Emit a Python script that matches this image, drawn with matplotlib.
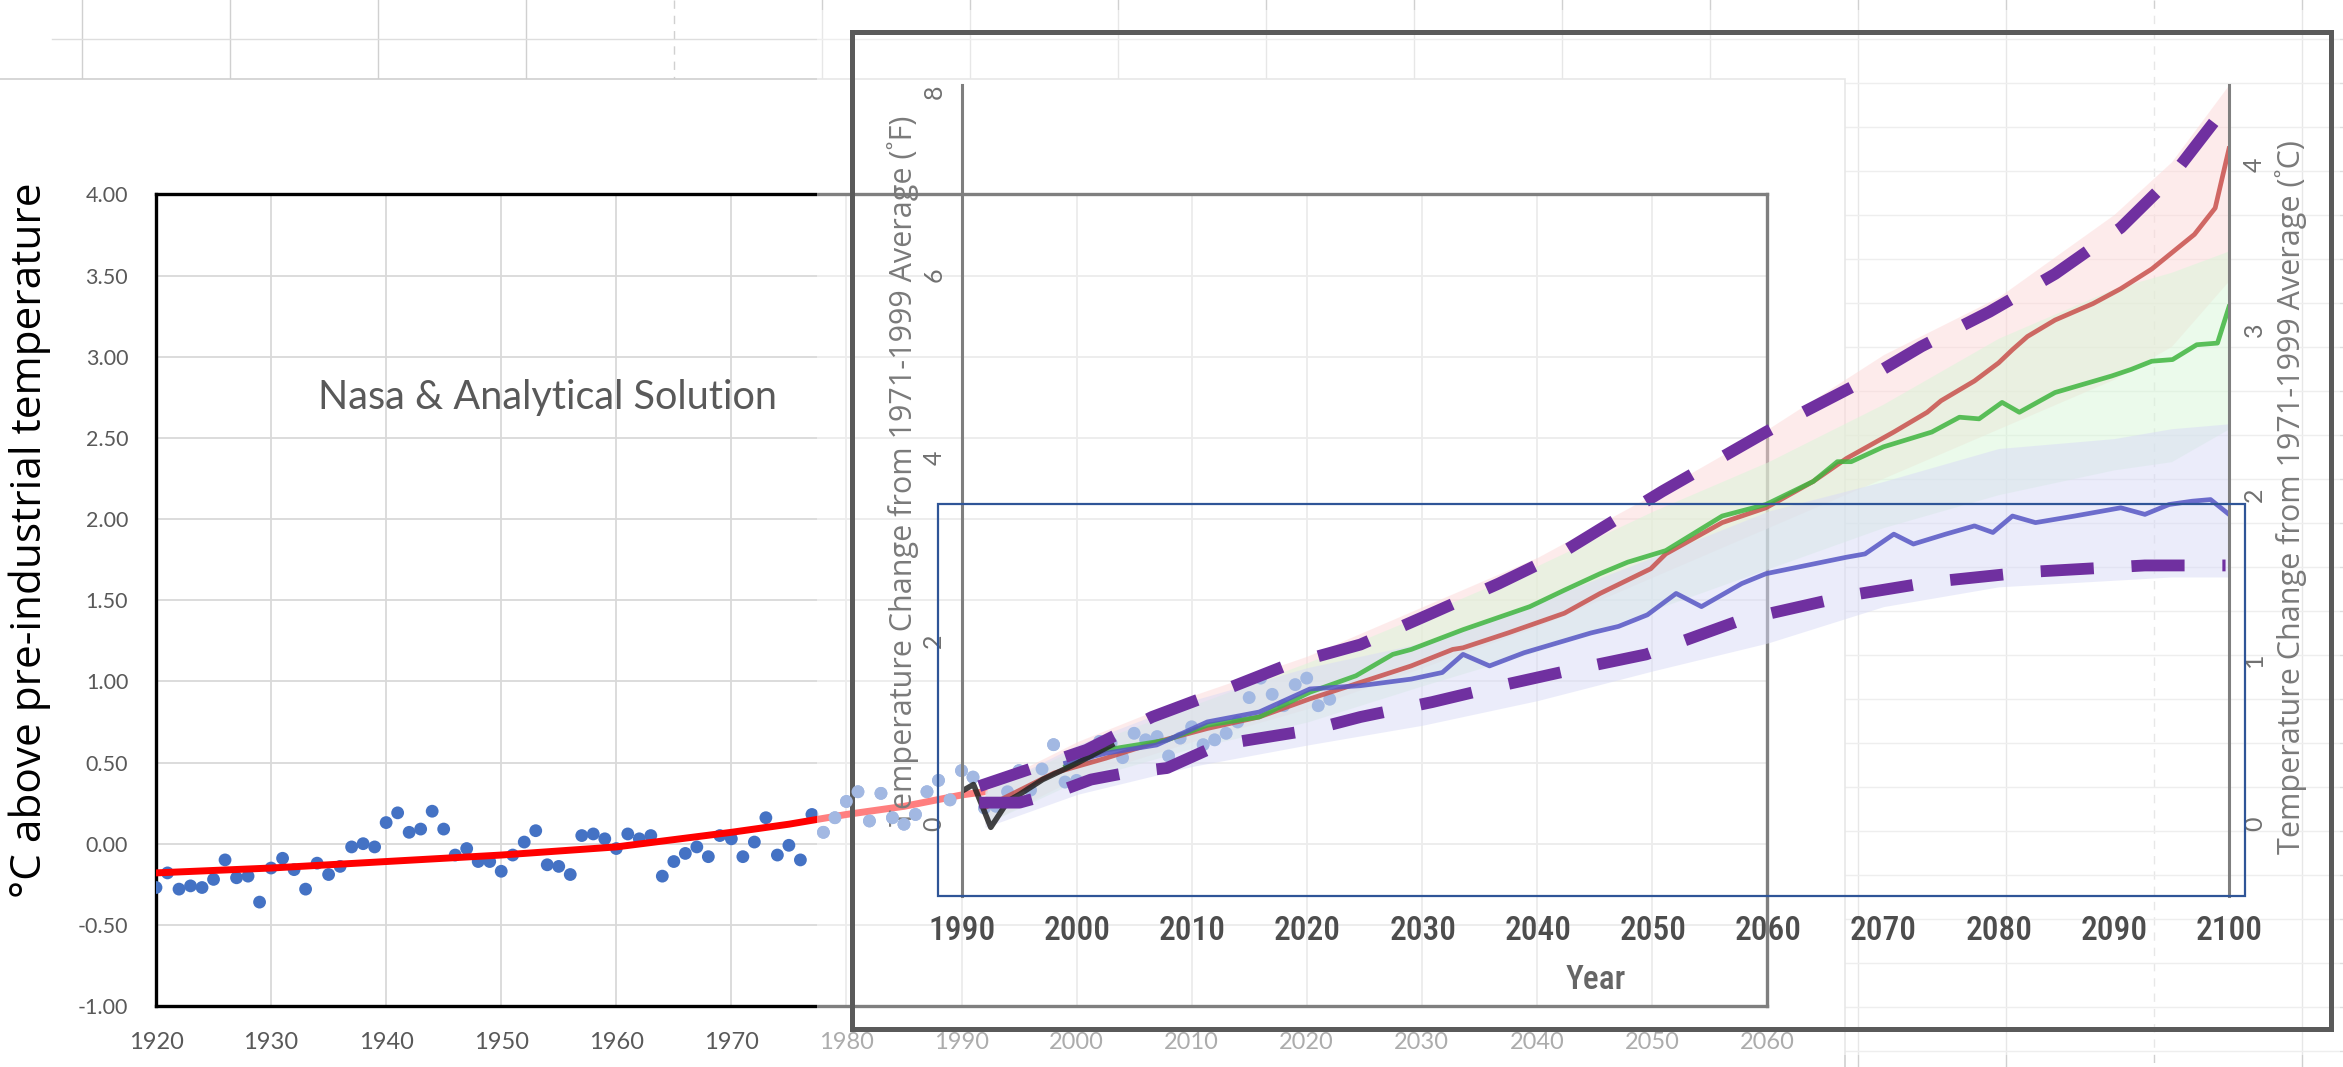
import matplotlib
matplotlib.use("Agg")
import matplotlib.pyplot as plt
import numpy as np
from matplotlib import font_manager
from matplotlib.font_manager import FontProperties
from matplotlib.patches import Rectangle
from matplotlib.ticker import FormatStrFormatter

plt.rcParams["font.family"] = ["Lato", "DejaVu Sans"]
plt.rcParams["axes.unicode_minus"] = False

# NASA annual temperature anomalies (deg C)
nasa_years = list(range(1920, 2023))
nasa_temps = [
    -0.27, -0.18, -0.28, -0.26, -0.27, -0.22, -0.10, -0.21, -0.20, -0.36,
    -0.15, -0.09, -0.16, -0.28, -0.12, -0.19, -0.14, -0.02, 0.00, -0.02,
    0.13, 0.19, 0.07, 0.09, 0.20, 0.09, -0.07, -0.03, -0.11, -0.11,
    -0.17, -0.07, 0.01, 0.08, -0.13, -0.14, -0.19, 0.05, 0.06, 0.03,
    -0.03, 0.06, 0.03, 0.05, -0.20, -0.11, -0.06, -0.02, -0.08, 0.05,
    0.03, -0.08, 0.01, 0.16, -0.07, -0.01, -0.10, 0.18, 0.07, 0.16,
    0.26, 0.32, 0.14, 0.31, 0.16, 0.12, 0.18, 0.32, 0.39, 0.27,
    0.45, 0.41, 0.22, 0.23, 0.32, 0.45, 0.33, 0.46, 0.61, 0.38,
    0.39, 0.54, 0.63, 0.62, 0.53, 0.68, 0.64, 0.66, 0.54, 0.65,
    0.72, 0.61, 0.64, 0.68, 0.75, 0.90, 1.02, 0.92, 0.85, 0.98,
    1.02, 0.85, 0.89,
]

# analytical solution (red curve)
fit_years = [1920, 1930, 1940, 1950, 1960, 1970, 1975, 1980, 1985, 1990, 1992]
fit_temps = [-0.18, -0.15, -0.11, -0.07, -0.02, 0.07, 0.12, 0.18, 0.23, 0.30, 0.32]

# NOAA projections, deg C relative to 1971-1999
high_years = [1992, 1998, 2002.5, 2007, 2011.3, 2015.8, 2020.2, 2024.6, 2029, 2032.6,
              2033.5, 2037.4, 2042.3, 2045.4, 2049.8, 2051.1, 2056, 2059.8, 2063.9,
              2066.8, 2070.9, 2073.8, 2075, 2077.9, 2080, 2081.2, 2082.5, 2084.9,
              2088.2, 2090.6, 2093.3, 2097, 2098.8, 2100]
high_temps = [0.10, 0.31, 0.40, 0.50, 0.58, 0.65, 0.76, 0.86, 0.96, 1.06,
              1.07, 1.16, 1.28, 1.40, 1.55, 1.64, 1.83, 1.92, 2.08,
              2.22, 2.38, 2.50, 2.57, 2.69, 2.80, 2.88, 2.96, 3.06,
              3.16, 3.25, 3.37, 3.58, 3.74, 4.10]

mid_years = [1999, 2002.5, 2007.8, 2011.3, 2015.8, 2020.2, 2024.2, 2027.4, 2029,
             2033.5, 2039.3, 2042.3, 2045.4, 2047.8, 2051.1, 2056, 2059.8, 2063.9,
             2066, 2067.2, 2070, 2074.2, 2076.6, 2078.3, 2080.3, 2081.8, 2084.9,
             2089.8, 2091.5, 2093.3, 2095.1, 2097.2, 2099, 2100]
mid_temps = [0.35, 0.45, 0.51, 0.60, 0.65, 0.80, 0.90, 1.03, 1.06,
             1.18, 1.32, 1.42, 1.52, 1.59, 1.66, 1.87, 1.94, 2.08,
             2.20, 2.20, 2.29, 2.38, 2.47, 2.46, 2.56, 2.50, 2.62,
             2.72, 2.76, 2.81, 2.82, 2.91, 2.92, 3.14]

low_years = [1999, 2002.5, 2006.9, 2011.3, 2015.8, 2020.2, 2024.6, 2029, 2031.7,
             2033.5, 2035.8, 2038.8, 2044.6, 2047, 2049.5, 2052, 2054.2, 2057.7,
             2059.8, 2061.9, 2066.8, 2068.4, 2070.9, 2072.6, 2075.4, 2077.9,
             2079.5, 2081.2, 2083.2, 2086.6, 2090.6, 2092.7, 2094.8, 2096.8,
             2098.4, 2100]
low_temps = [0.37, 0.43, 0.48, 0.62, 0.68, 0.82, 0.84, 0.88, 0.92,
             1.03, 0.96, 1.04, 1.16, 1.20, 1.27, 1.40, 1.32, 1.46,
             1.52, 1.55, 1.62, 1.64, 1.76, 1.70, 1.76, 1.81,
             1.77, 1.87, 1.83, 1.87, 1.92, 1.88, 1.94, 1.96,
             1.97, 1.88]

obs_years = [1990, 1991, 1992.5, 1994, 1995, 1997, 2000, 2003]
obs_temps = [0.20, 0.24, -0.02, 0.14, 0.18, 0.27, 0.37, 0.48]

band_years = [1992, 2000, 2010, 2020, 2030, 2040, 2050, 2060, 2070, 2080, 2090, 2095, 2100]
high_band_hi = [0.22, 0.50, 0.78, 1.02, 1.32, 1.62, 2.00, 2.40, 2.85, 3.20, 3.70, 4.02, 4.49]
high_band_lo = [0.00, 0.28, 0.50, 0.70, 0.95, 1.20, 1.50, 1.80, 2.10, 2.40, 2.70, 2.90, 3.30]
mid_band_hi = [0.20, 0.46, 0.72, 0.98, 1.27, 1.57, 1.90, 2.20, 2.55, 2.95, 3.25, 3.35, 3.48]
mid_band_lo = [0.00, 0.26, 0.46, 0.62, 0.84, 1.05, 1.30, 1.55, 1.80, 2.00, 2.15, 2.20, 2.40]
low_band_hi = [0.20, 0.48, 0.75, 0.95, 1.10, 1.35, 1.62, 1.90, 2.08, 2.28, 2.34, 2.40, 2.43]
low_band_lo = [-0.02, 0.18, 0.35, 0.48, 0.60, 0.75, 0.93, 1.10, 1.32, 1.44, 1.48, 1.50, 1.50]

# hand-drawn envelope (purple dashes)
env_hi_years = [1991.5, 2000.8, 2006.5, 2012.6, 2018.4, 2024.6, 2030.8, 2036.6, 2041.9,
                2045.4, 2050.8, 2059.8, 2062.2, 2068, 2073.3, 2079.2, 2084.9, 2090.6,
                2094.8, 2100]
env_hi_temps = [0.23, 0.45, 0.65, 0.81, 0.97, 1.09, 1.28, 1.46, 1.64,
                1.79, 2.02, 2.38, 2.47, 2.68, 2.90, 3.11, 3.34, 3.62,
                3.91, 4.38]
env_lo_years = [1991.5, 1995, 1998.1, 2001.2, 2004.2, 2007.8, 2011.3, 2014, 2020.2,
                2024.6, 2030.8, 2037.4, 2043.2, 2049.4, 2057.7, 2067.2, 2074.2,
                2082.5, 2092.7, 2099.7]
env_lo_temps = [0.13, 0.13, 0.19, 0.27, 0.31, 0.34, 0.45, 0.50, 0.57,
                0.65, 0.74, 0.85, 0.94, 1.03, 1.24, 1.39, 1.47,
                1.53, 1.57, 1.57]

W, H = 2343, 1067
fig = plt.figure(figsize=(W / 100, H / 100), dpi=100)


def rect(x0, y0, x1, y1):
    return [x0 / W, 1 - y1 / H, (x1 - x0) / W, (y1 - y0) / H]


def canvas(z):
    a = fig.add_axes([0, 0, 1, 1], zorder=z)
    a.set_xlim(0, W)
    a.set_ylim(H, 0)
    a.axis("off")
    a.patch.set_alpha(0)
    return a


def weight_num(w):
    names = {"light": 300, "normal": 400, "regular": 400, "book": 400, "medium": 500,
             "semibold": 600, "demibold": 600, "bold": 700, "heavy": 800, "black": 900}
    return int(w) if str(w).isdigit() else names.get(str(w).lower(), 400)


# a condensed face for the NOAA year axis, if one is installed
narrow_path = None
preferred = ["Liberation Sans Narrow", "Roboto Condensed", "Open Sans Condensed",
             "Noto Sans", "Roboto", "Open Sans", "Noto Sans Display"]
cands = [f for f in font_manager.fontManager.ttflist
         if ("condensed" in str(f.stretch).lower() or "narrow" in f.name.lower())
         and f.style == "normal"]
cands.sort(key=lambda f: (abs(weight_num(f.weight) - 500),
                          preferred.index(f.name) if f.name in preferred else 99))
if cands:
    narrow_path = cands[0].fname


def year_font(size):
    if narrow_path:
        return FontProperties(fname=narrow_path, size=size)
    return FontProperties(family="Lato", size=size * 0.85)


# spreadsheet cells behind the chart
bg = canvas(0)
for k in range(16):
    x = 82 + 148 * k
    y_end = H if x > 1845 else 80
    ls = (0, (6, 5)) if x in (674, 2154) else "-"
    bg.plot([x, x], [0, y_end], color="#d0d0d0", lw=1, ls=ls, zorder=1)
for y in range(39, H, 44):
    x_start = 52 if y < 80 else 1845
    bg.plot([x_start, W], [y, y], color="#dedede", lw=1, zorder=1)
bg.add_patch(Rectangle((-5, 79), 1850, H, fc="white", ec="#cfcfcf", lw=1.2, zorder=2))
bg.text(30, 540, "°C above pre-industrial temperature", rotation=90, ha="center",
        va="center", fontsize=30.5, color="black", family=["Open Sans", "DejaVu Sans"], zorder=3)

# Excel chart
ax = fig.add_axes(rect(156, 194.4, 1767, 1006), zorder=1)
ax.patch.set_alpha(0)
ax.set_xlim(1920, 2060)
ax.set_ylim(-1, 4)
ax.set_xticks(range(1920, 2061, 10))
ax.set_yticks(np.arange(-1, 4.01, 0.5))
ax.yaxis.set_major_formatter(FormatStrFormatter("%.2f"))
ax.grid(color="#d9d9d9", lw=1.3)
ax.set_axisbelow(True)
ax.tick_params(length=0, labelcolor="#595959")
ax.tick_params(axis="x", labelsize=17, pad=19)
ax.tick_params(axis="y", labelsize=15.5, pad=20)
for s in ax.spines.values():
    s.set_color("black")
    s.set_linewidth(2.4)
ax.scatter(nasa_years, nasa_temps, s=85, color="#4472C4", edgecolors="none", zorder=3)
ax.plot(fit_years, fit_temps, color="red", lw=5, solid_capstyle="round", zorder=4)
ax.text(1934.1, 2.75, "Nasa & Analytical Solution", fontsize=28.5, color="#595959", va="center")

# pasted NOAA picture: translucent white layer and frame
fg = canvas(2)
fg.add_patch(Rectangle((817, 10), 2340 - 817, 1055 - 10, fc="white", alpha=0.5, ec="none"))
fg.add_patch(Rectangle((852, 32), 2331 - 852, 1029 - 32, fill=False, ec="#5a5a5a", lw=3.6))
fg.text(903, 471, "Temperature Change from 1971-1999 Average (˚F)", rotation=90,
        ha="center", va="center", fontsize=22, color="#7a7a7a",
        family=["Open Sans", "DejaVu Sans"])
fg.text(2291, 497, "Temperature Change from 1971-1999 Average (˚C)", rotation=90,
        ha="center", va="center", fontsize=22, color="#7a7a7a",
        family=["Open Sans", "DejaVu Sans"])

nx = fig.add_axes(rect(962, 85, 2229, 896), zorder=3)
nx.patch.set_alpha(0)
nx.set_xlim(1990, 2100)
nx.set_ylim(-0.437, 4.487)
for side in ("top", "bottom"):
    nx.spines[side].set_visible(False)
for side in ("left", "right"):
    nx.spines[side].set_color("#7f7f7f")
    nx.spines[side].set_linewidth(2.2)
years_ticks = list(range(1990, 2101, 10))
nx.set_xticks(years_ticks, labels=[str(y) for y in years_ticks], fontproperties=year_font(24))
nx.tick_params(axis="x", length=0, pad=14, labelcolor="#4d4d4d")
nx.set_xlabel("Year", color="#666666", fontproperties=year_font(24), labelpad=12)
nx.yaxis.tick_right()
nx.set_yticks([0, 1, 2, 3, 4], labels=["0", "1", "2", "3", "4"], rotation=90, va="center")
nx.tick_params(axis="y", length=0, pad=10, labelsize=18, labelcolor="#707070")
sec = nx.secondary_yaxis("left", functions=(lambda c: c * 1.8, lambda f: f / 1.8))
sec.set_yticks([0, 2, 4, 6, 8], labels=["0", "2", "4", "6", "8"], rotation=90, va="center")
sec.tick_params(length=0, pad=12, labelsize=18, labelcolor="#707070")
sec.spines["left"].set_visible(False)

nx.fill_between(band_years, high_band_lo, high_band_hi, color="#fdd8d8", alpha=0.5, lw=0)
nx.fill_between(band_years, mid_band_lo, mid_band_hi, color="#d8f6d8", alpha=0.5, lw=0)
nx.fill_between(band_years, low_band_lo, low_band_hi, color="#d8daf6", alpha=0.5, lw=0)

# the NASA points still show through the pasted picture
late = [(y, t) for y, t in zip(nasa_years, nasa_temps) if y >= 1978]
nx.scatter([p[0] for p in late], [p[1] for p in late], s=85, color="#a2b8e2",
           edgecolors="none", transform=ax.transData, zorder=1.5, clip_on=False)

nx.plot(high_years, high_temps, color="#c8504c", lw=3.4, alpha=0.85)
nx.plot(mid_years, mid_temps, color="#3fb53f", lw=3.4, alpha=0.85)
nx.plot(low_years, low_temps, color="#5656c4", lw=3.4, alpha=0.85)
nx.plot(obs_years, obs_temps, color="#222222", lw=4, alpha=0.85)
for yrs, vals in ((env_hi_years, env_hi_temps), (env_lo_years, env_lo_temps)):
    nx.plot(yrs, vals, color="#7030A0", lw=8.5, dashes=(4.5, 3.2),
            dash_capstyle="butt", zorder=10, clip_on=False)

top = canvas(4)
top.add_patch(Rectangle((938, 504), 2245 - 938, 896 - 504, fill=False, ec="#2F5597", lw=1.6))

fig.savefig("out.png", dpi=100)
